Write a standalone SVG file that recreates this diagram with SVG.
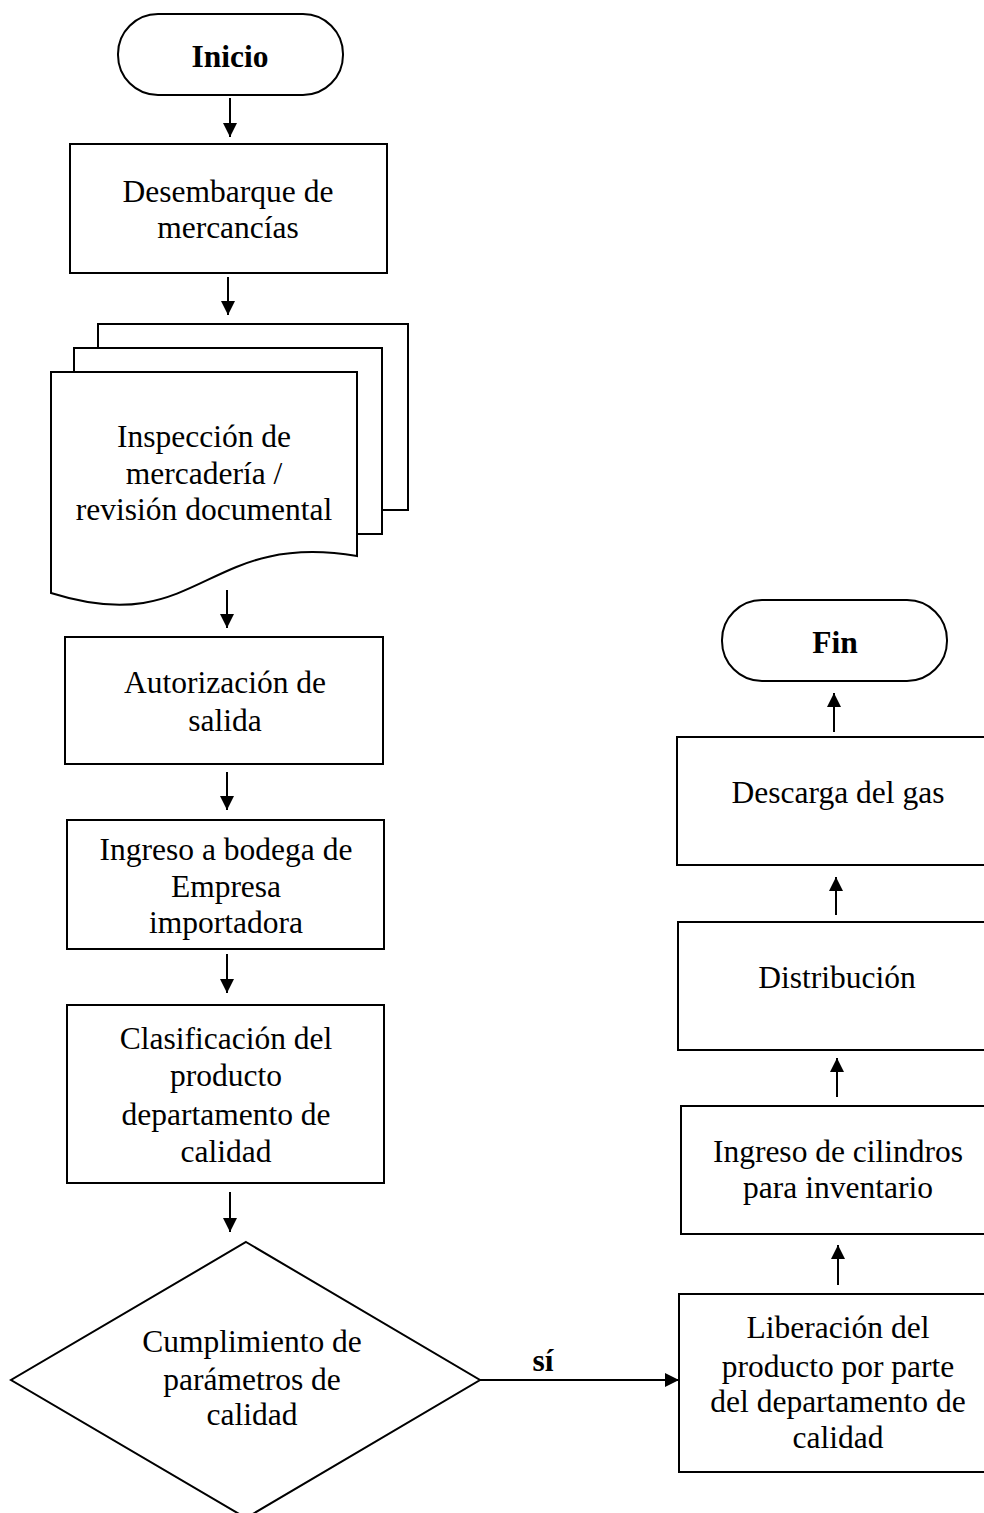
<svg xmlns="http://www.w3.org/2000/svg" width="984" height="1513" viewBox="0 0 984 1513">
<style>
.s{fill:#fff;stroke:#000;stroke-width:2}
.t{font-family:"Liberation Serif","Times New Roman",serif;font-size:31.5px;fill:#000;text-anchor:middle}
.b{font-weight:bold}
.c{stroke:#000;stroke-width:2;fill:none;marker-end:url(#ah)}
</style>
<defs>
<marker id="ah" markerUnits="userSpaceOnUse" markerWidth="15" markerHeight="15" refX="14" refY="7" orient="auto">
<path d="M0,0 L14,7 L0,14 z" fill="#000"/>
</marker>
</defs>
<rect width="984" height="1513" fill="#fff"/>
<g id="inicio">
<rect class="s" x="118" y="14" width="225" height="81" rx="40" ry="40"/>
<text class="t b" x="230" y="67">Inicio</text>
</g>
<g id="desembarque">
<rect class="s" x="70" y="144" width="317" height="129"/>
<text class="t" x="228" y="202">Desembarque de</text>
<text class="t" x="228" y="238">mercancías</text>
</g>
<g id="inspeccion">
<path class="s" d="M98,348 V324 H408 V510 H382"/>
<path class="s" d="M74,372 V348 H382 V534 H357"/>
<path class="s" d="M51,372 H357 V556 C204,530 200,640 51,593 Z"/>
<text class="t" x="204" y="447">Inspección de</text>
<text class="t" x="204" y="484">mercadería /</text>
<text class="t" x="204" y="520">revisión documental</text>
</g>
<g id="autorizacion">
<rect class="s" x="65" y="637" width="318" height="127"/>
<text class="t" x="225" y="693">Autorización de</text>
<text class="t" x="225" y="731">salida</text>
</g>
<g id="ingreso-bodega">
<rect class="s" x="67" y="820" width="317" height="129"/>
<text class="t" x="226" y="860">Ingreso a bodega de</text>
<text class="t" x="226" y="897">Empresa</text>
<text class="t" x="226" y="933">importadora</text>
</g>
<g id="clasificacion">
<rect class="s" x="67" y="1005" width="317" height="178"/>
<text class="t" x="226" y="1049">Clasificación del</text>
<text class="t" x="226" y="1086">producto</text>
<text class="t" x="226" y="1125">departamento de</text>
<text class="t" x="226" y="1162">calidad</text>
</g>
<g id="decision">
<polygon class="s" points="246,1242 480,1380 246,1518 11,1380"/>
<text class="t" x="252" y="1352">Cumplimiento de</text>
<text class="t" x="252" y="1390">parámetros de</text>
<text class="t" x="252" y="1425">calidad</text>
</g>
<g id="liberacion">
<rect class="s" x="679" y="1294" width="317" height="178"/>
<text class="t" x="838" y="1338">Liberación del</text>
<text class="t" x="838" y="1377">producto por parte</text>
<text class="t" x="838" y="1412">del departamento de</text>
<text class="t" x="838" y="1448">calidad</text>
</g>
<g id="ingreso-cilindros">
<rect class="s" x="681" y="1106" width="317" height="128"/>
<text class="t" x="838" y="1162">Ingreso de cilindros</text>
<text class="t" x="838" y="1198">para inventario</text>
</g>
<g id="distribucion">
<rect class="s" x="678" y="922" width="317" height="128"/>
<text class="t" x="837" y="988">Distribución</text>
</g>
<g id="descarga">
<rect class="s" x="677" y="737" width="317" height="128"/>
<text class="t" x="838" y="803">Descarga del gas</text>
</g>
<g id="fin">
<rect class="s" x="722" y="600" width="225" height="81" rx="40" ry="40"/>
<text class="t b" x="835" y="653">Fin</text>
</g>
<g id="connectors">
<line class="c" x1="230" y1="98" x2="230" y2="137"/>
<line class="c" x1="228" y1="277" x2="228" y2="315"/>
<line class="c" x1="227" y1="590" x2="227" y2="628"/>
<line class="c" x1="227" y1="772" x2="227" y2="810"/>
<line class="c" x1="227" y1="954" x2="227" y2="993"/>
<line class="c" x1="230" y1="1192" x2="230" y2="1232"/>
<line class="c" x1="480" y1="1380" x2="679" y2="1380"/>
<line class="c" x1="838" y1="1285" x2="838" y2="1245"/>
<line class="c" x1="837" y1="1097" x2="837" y2="1058"/>
<line class="c" x1="836" y1="915" x2="836" y2="877"/>
<line class="c" x1="834" y1="732" x2="834" y2="693"/>
<text class="t b" x="543" y="1371">sí</text>
</g>
</svg>
